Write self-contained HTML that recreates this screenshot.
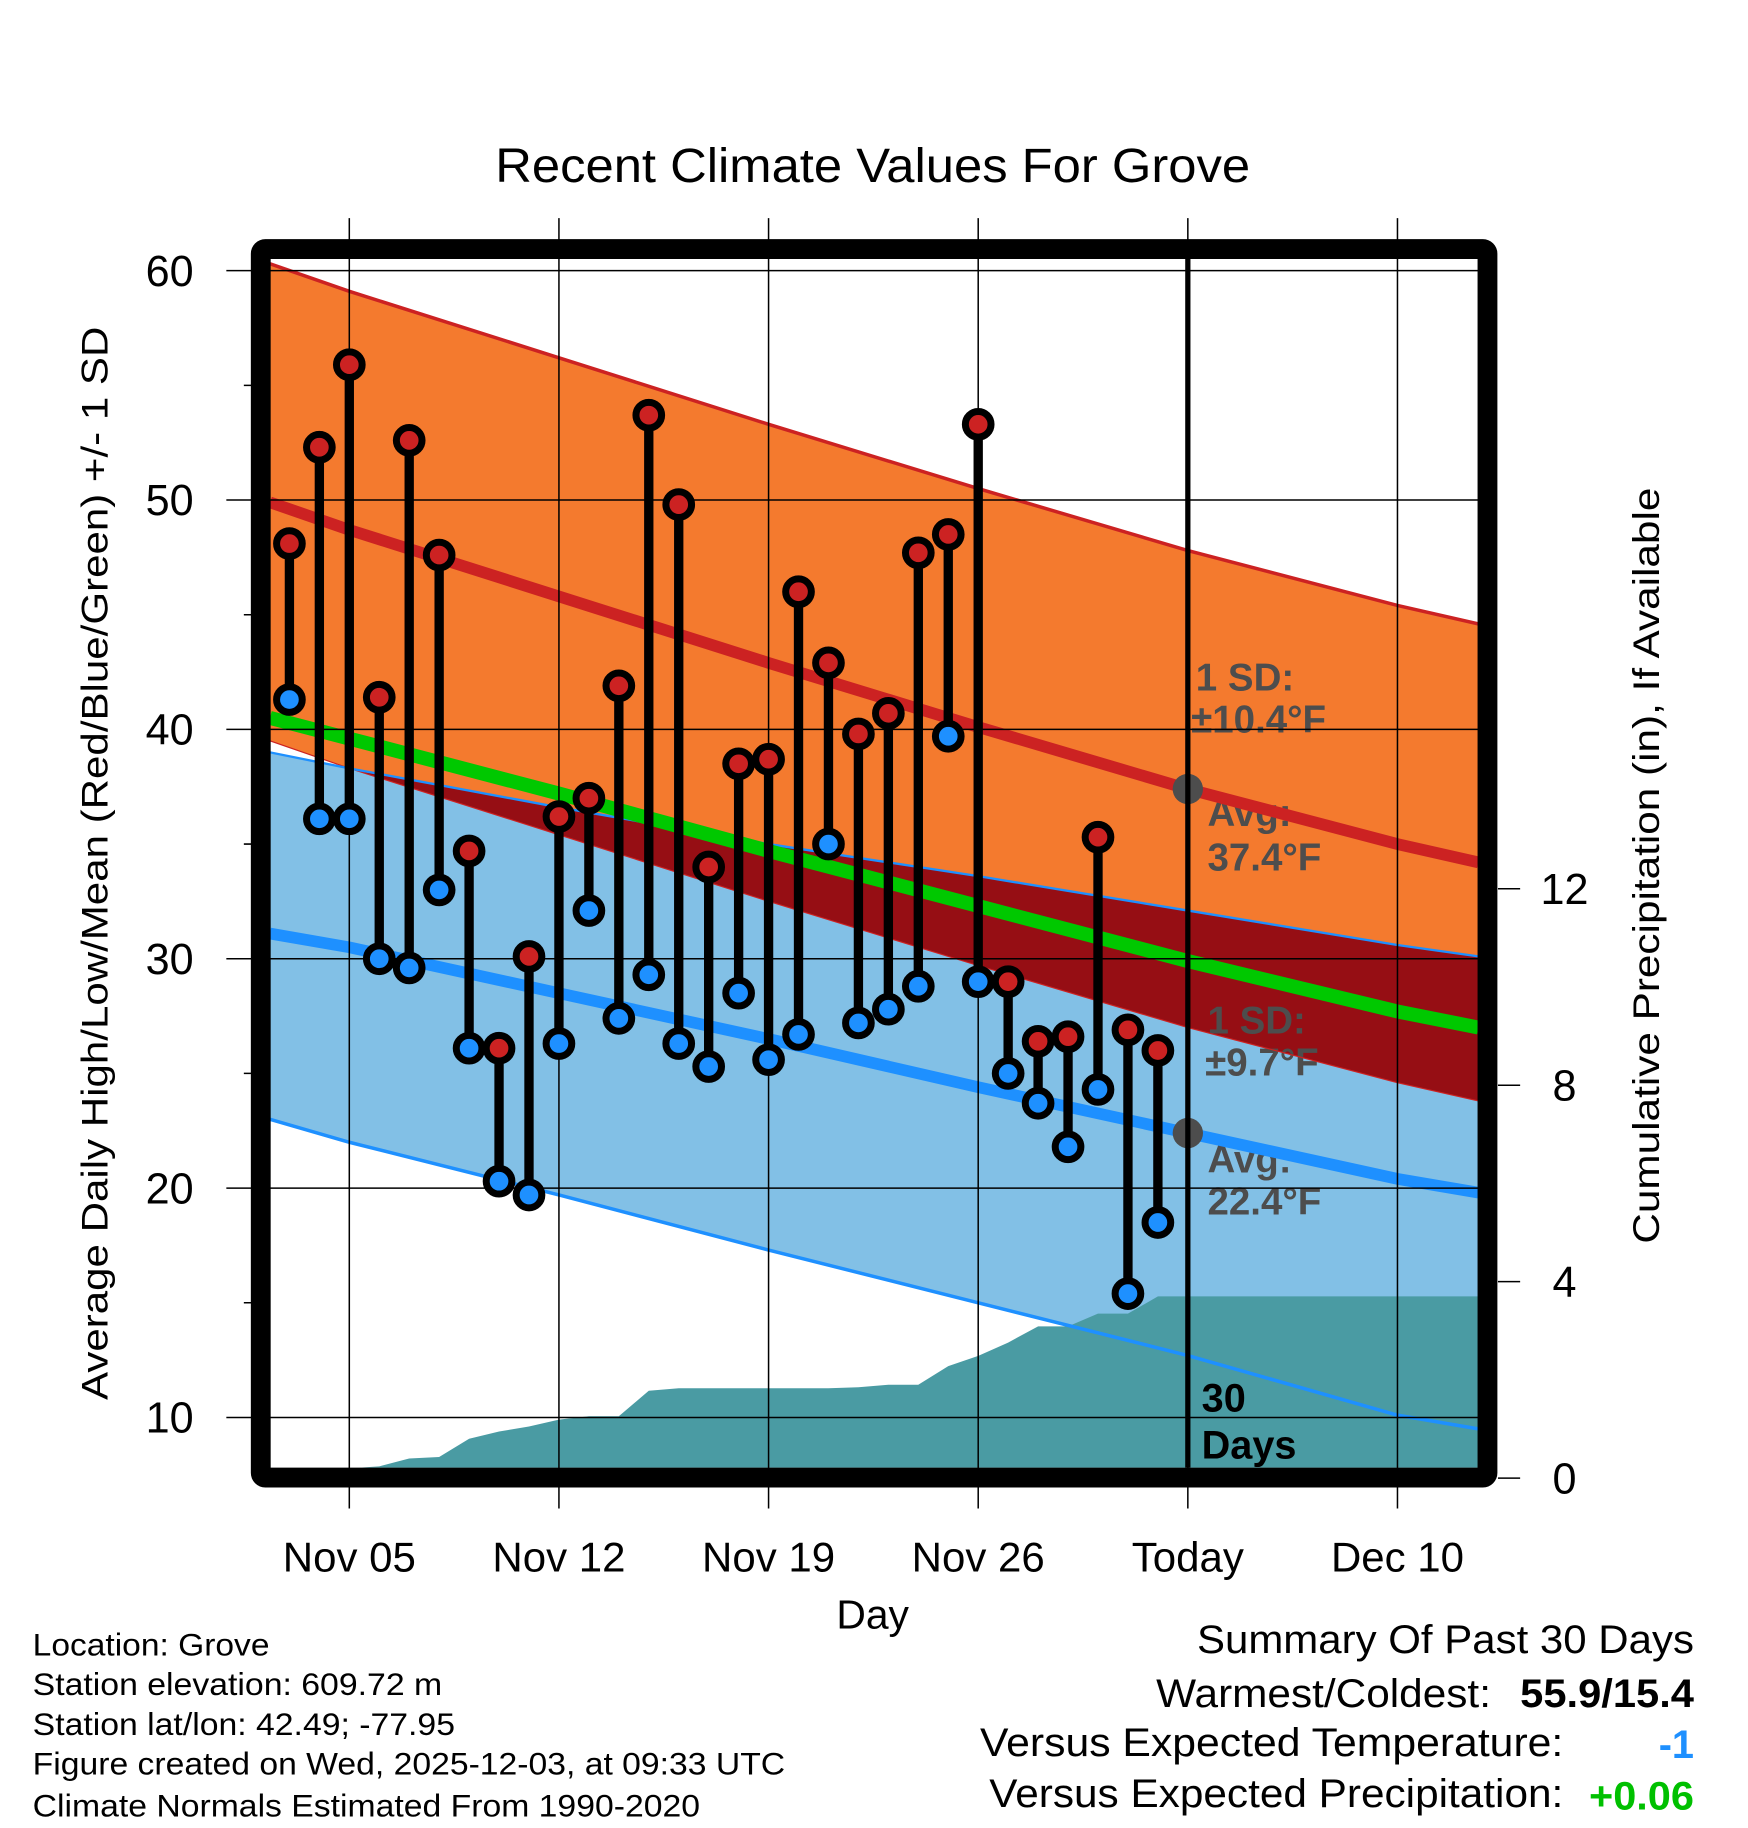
<!DOCTYPE html>
<html><head><meta charset="utf-8"><style>html,body{margin:0;padding:0;background:#fff}svg{display:block}</style></head>
<body>
<svg id="chart" xmlns="http://www.w3.org/2000/svg" width="1748" height="1828" viewBox="0 0 1498.3 1566.9" font-family="'Liberation Sans', sans-serif">
<g id="fills"></g><g id="annot"></g><g id="lines"></g><g id="grid"></g><g id="marks"></g><g id="frame"></g><g id="texts"></g>
</svg>
<script>
// ---- data ----
const obsDays = [3,4,5,6,7,8,9,10,11,12,13,14,15,16,17,18,19,20,21,22,23,24,25,26,27,28,29,30,31,32]; // day of Nov (31=Dec1)
const highs = [48.1,52.3,55.9,41.4,52.6,47.6,34.7,26.1,30.1,36.2,37.0,41.9,53.7,49.8,34.0,38.5,38.7,46.0,42.9,39.8,40.7,47.7,48.5,53.3,29.0,26.4,26.6,35.3,26.9,26.0];
const lows = [41.3,36.1,36.1,30.0,29.6,33.0,26.1,20.3,19.7,26.3,32.1,27.4,29.3,26.3,25.3,28.5,25.6,26.7,35.0,27.2,27.8,28.8,39.7,29.0,25.0,23.7,21.8,24.3,15.4,18.5];
const precipCum = [0,0,0.2,0.24,0.4,0.43,0.8,0.95,1.05,1.19,1.26,1.26,1.78,1.83,1.83,1.83,1.83,1.83,1.83,1.85,1.9,1.9,2.28,2.49,2.76,3.09,3.09,3.35,3.35,3.7];
const normDays = [2.35,5,12,19,26,33,40,42.7];
const avgHigh = [49.9,48.7,45.8,42.9,40.1,37.4,35.0,34.2];
const highSD = 10.4;
const avgLow = [31.1,30.5,28.5,26.5,24.4,22.4,20.4,19.8];
const lowUpper = [39.0,38.3,36.6,35.0,33.6,32.1,30.6,30.1];
const lowLower = [23.0,22.0,19.7,17.3,15.0,12.7,10.1,9.5];
const avgMean = [40.5,39.6,37.2,34.7,32.3,29.9,27.7,27.0];
const yTicks = [10,20,30,40,50,60];
const yMinor = [15,25,35,45,55];
const xTickDays = [5,12,19,26,33,40];
const xTickLabels = ["Nov 05","Nov 12","Nov 19","Nov 26","Today","Dec 10"];
const pTicks = [0,4,8,12];
const todayDay = 33;
const endDay = 42.7;

// ---- axes ----
const L=231.5,R=1267,T=222,B=1258;
const X = d => 299.4 + (d-5)*25.67;
const Y = v => 232 + (60-v)*19.66;
const P = p => 1267 - p*42.1;
const NS="http://www.w3.org/2000/svg";
function mk(parent,tag,attrs){const e=document.createElementNS(NS,tag);for(const k in attrs)e.setAttribute(k,attrs[k]);document.getElementById(parent).appendChild(e);return e;}
const pts = (ds,vs)=>ds.map((d,i)=>X(d).toFixed(1)+","+Y(vs[i]).toFixed(1));

const defs=document.createElementNS(NS,'defs');defs.innerHTML='<clipPath id="pc"><rect x="'+L+'" y="'+T+'" width="'+(R-L)+'" height="'+(B-T)+'"/></clipPath>';
document.getElementById('chart').prepend(defs);
['fills','lines','annot'].forEach(g=>document.getElementById(g).setAttribute('clip-path','url(#pc)'));

const hiU=avgHigh.map(v=>v+highSD), hiL=avgHigh.map(v=>v-highSD);
let e=mk('fills','polygon',{points:pts(normDays,hiU).concat(pts(normDays,hiL).reverse()).join(' '),fill:'#f47a2e'});

e=mk('fills','polygon',{points:pts(normDays,lowUpper).concat(pts(normDays,lowLower).reverse()).join(' '),fill:'#82c0e6'});

const ovTop=normDays.map((d,i)=>Math.min(lowUpper[i],hiU[i])), ovBot=normDays.map((d,i)=>Math.min(hiL[i],ovTop[i]));
e=mk('fills','polygon',{points:pts(normDays,ovTop).concat(pts(normDays,ovBot).reverse()).join(' '),fill:'#960e14'});

const pd=obsDays.concat([endDay]), pv=precipCum.concat([precipCum[precipCum.length-1]]);
const ppts=pd.map((d,i)=>X(d).toFixed(1)+","+P(pv[i]).toFixed(1));
e=mk('fills','polygon',{points:[X(obsDays[0])+","+P(0)].concat(ppts,[X(endDay)+","+P(0)]).join(' '),fill:'#4a9ba3'});


const ann=[["1 SD:",1025,592],["±10.4°F",1021,628],["Avg:",1035,708],["37.4°F",1035,746],["1 SD:",1035,886],["±9.7°F",1033,922],["Avg:",1035,1005],["22.4°F",1035,1041]];
ann.forEach(a=>{const t=mk('annot','text',{x:a[1],y:a[2],'font-size':33,'font-weight':'bold',fill:'#4d4d4d'});t.textContent=a[0];
});

function pl(vals,col,w,name){const l=mk('lines','polyline',{points:pts(normDays,vals).join(' '),fill:'none',stroke:col,'stroke-width':w});
}
pl(hiU,'#cc2222',3,'high-upper-sd-line');
pl(hiL,'#cc2222',1,'high-lower-sd-line');
pl(lowUpper,'#1e90ff',2,'low-upper-sd-line');
pl(lowLower,'#1e90ff',3,'low-lower-sd-line');
pl(avgMean,'#00c800',12,'avg-mean-line');
pl(avgHigh,'#cc2222',10,'avg-high-line');
pl(avgLow,'#1e90ff',10,'avg-low-line');
[[avgHigh[5]],[avgLow[5]]].forEach((v,i)=>{const c=mk('lines','circle',{cx:X(todayDay),cy:Y(v[0]),r:13,fill:'#4d4d4d'});
});

yTicks.forEach(v=>{const l=mk('grid','line',{x1:194,x2:R,y1:Y(v),y2:Y(v),stroke:'#000','stroke-width':1.3});

const t=mk('texts','text',{x:166,y:Y(v)+13,'font-size':37,'text-anchor':'end'});t.textContent=v;
});
yMinor.forEach(v=>{const l=mk('grid','line',{x1:209,x2:L,y1:Y(v),y2:Y(v),stroke:'#000','stroke-width':1.3});
});
xTickDays.forEach((d,i)=>{const l=mk('grid','line',{x1:X(d),x2:X(d),y1:187,y2:1293,stroke:'#000','stroke-width':1.3});

const t=mk('texts','text',{x:X(d),y:1347,'font-size':36,'text-anchor':'middle'});t.textContent=xTickLabels[i];
});
pTicks.forEach(p=>{const l=mk('grid','line',{x1:1284,x2:1303,y1:P(p),y2:P(p),stroke:'#000','stroke-width':1.3});

const t=mk('texts','text',{x:1341,y:P(p)+13,'font-size':37,'text-anchor':'middle'});t.textContent=p;
});
e=mk('grid','line',{x1:X(todayDay),x2:X(todayDay),y1:T,y2:B,stroke:'#000','stroke-width':4.5});


obsDays.forEach((d,i)=>{const s=mk('marks','line',{x1:X(d),x2:X(d),y1:Y(highs[i]),y2:Y(lows[i]),stroke:'#000','stroke-width':8});
});
obsDays.forEach((d,i)=>{
const h=mk('marks','circle',{cx:X(d),cy:Y(highs[i]),r:11,fill:'#cc2222',stroke:'#000','stroke-width':6});

const lo=mk('marks','circle',{cx:X(d),cy:Y(lows[i]),r:11,fill:'#1e90ff',stroke:'#000','stroke-width':6});
});

e=mk('frame','rect',{x:L-8.5+0.5,y:T-8.5,width:R-L+17-1,height:B-T+17,fill:'none',stroke:'#000','stroke-width':17,rx:4});

</script>
<svg style="position:absolute;left:0;top:0" width="1748" height="1828" viewBox="0 0 1498.3 1566.9" font-family="'Liberation Sans', sans-serif">
<text x="748" y="156" font-size="41" text-anchor="middle" textLength="647" lengthAdjust="spacingAndGlyphs">Recent Climate Values For Grove</text>
<text x="1030" y="1210" font-size="34" font-weight="bold">30</text>
<text x="1030" y="1250" font-size="34" font-weight="bold">Days</text>
<text x="748" y="1396" font-size="35" text-anchor="middle">Day</text>
<text transform="translate(92,740) rotate(-90)" font-size="32" text-anchor="middle" textLength="920" lengthAdjust="spacingAndGlyphs">Average Daily High/Low/Mean (Red/Blue/Green) +/- 1 SD</text>
<text transform="translate(1422,742) rotate(-90)" font-size="32" text-anchor="middle" textLength="648" lengthAdjust="spacingAndGlyphs">Cumulative Precipitation (in), If Available</text>
<g font-size="27">
<text x="28" y="1419" textLength="203" lengthAdjust="spacingAndGlyphs">Location: Grove</text>
<text x="28" y="1453" textLength="351" lengthAdjust="spacingAndGlyphs">Station elevation: 609.72 m</text>
<text x="28" y="1487" textLength="362" lengthAdjust="spacingAndGlyphs">Station lat/lon: 42.49; -77.95</text>
<text x="28" y="1521" textLength="645" lengthAdjust="spacingAndGlyphs">Figure created on Wed, 2025-12-03, at 09:33 UTC</text>
<text x="28" y="1557" textLength="572" lengthAdjust="spacingAndGlyphs">Climate Normals Estimated From 1990-2020</text>
</g>
<g font-size="34">
<text x="1452" y="1417" text-anchor="end" textLength="426" lengthAdjust="spacingAndGlyphs">Summary Of Past 30 Days</text>
<text x="1278" y="1463" text-anchor="end" textLength="287" lengthAdjust="spacingAndGlyphs">Warmest/Coldest:</text>
<text x="1452" y="1463" text-anchor="end" font-weight="bold" textLength="149" lengthAdjust="spacingAndGlyphs">55.9/15.4</text>
<text x="1340" y="1505" text-anchor="end" textLength="500" lengthAdjust="spacingAndGlyphs">Versus Expected Temperature:</text>
<text x="1452" y="1507" text-anchor="end" font-weight="bold" fill="#1e90ff">-1</text>
<text x="1340" y="1549" text-anchor="end" textLength="492" lengthAdjust="spacingAndGlyphs">Versus Expected Precipitation:</text>
<text x="1452" y="1551" text-anchor="end" font-weight="bold" fill="#00c000" textLength="90" lengthAdjust="spacingAndGlyphs">+0.06</text>
</g>
</svg>
</body></html>
